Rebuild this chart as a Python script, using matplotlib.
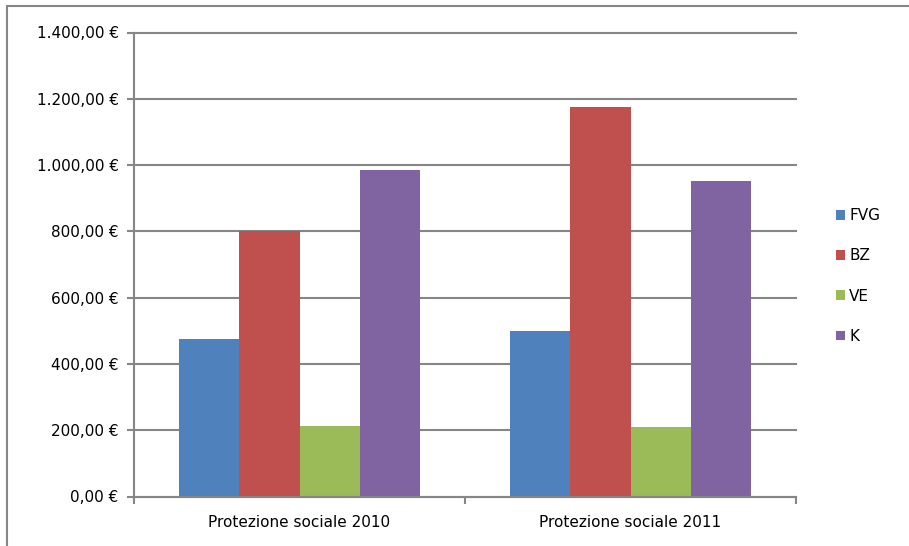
import matplotlib
matplotlib.use('Agg')
import matplotlib.pyplot as plt
import matplotlib.patches as mpatches
from matplotlib.ticker import FuncFormatter, MultipleLocator
import numpy as np

categories = ['Protezione sociale 2010', 'Protezione sociale 2011']
series = ['FVG', 'BZ', 'VE', 'K']
fvg = [474, 499]
bz = [800, 1175]
ve = [213, 210]
k = [985, 953]
colors = ['#4F81BD', '#C0504D', '#9BBB59', '#8064A2']

plt.rcParams['font.family'] = ['DejaVu Sans']

def euro(v, pos):
    # 1400 -> "1.400,00 €"
    s = '{:,.2f}'.format(v)
    s = s.replace(',', 'X').replace('.', ',').replace('X', '.')
    return s + ' \u20ac'

fig = plt.figure(figsize=(9.09, 5.46), dpi=100)
ax = fig.add_axes([134 / 909, 1 - 496.5 / 546, (796 - 134) / 909, (496.5 - 32.5) / 546])

x = np.arange(len(categories))
w = 1 / 5.5
for i, (name, vals) in enumerate(zip(series, [fvg, bz, ve, k])):
    ax.bar(x + (i - 1.5) * w, vals, width=w, color=colors[i], label=name, zorder=3)

ax.set_xlim(-0.5, 1.5)
ax.set_ylim(0, 1400)
ax.yaxis.set_major_locator(MultipleLocator(200))
ax.yaxis.set_major_formatter(FuncFormatter(euro))
ax.grid(axis='y', color='#868686', linewidth=1.5, zorder=0)
# keep the 1400 line at full width
for gl in ax.get_ygridlines():
    gl.set_clip_on(False)

ax.set_xticks(x)
ax.set_xticklabels(categories)
ax.set_xticks([-0.5, 0.5, 1.5], minor=True)
ax.tick_params(axis='x', which='major', length=0, pad=13, labelsize=11)
ax.tick_params(axis='x', which='minor', length=5, width=1.5, color='#868686')
ax.tick_params(axis='y', length=5, width=1.5, color='#868686', pad=6, labelsize=11)

for side in ['top', 'right']:
    ax.spines[side].set_visible(False)
for side in ['left', 'bottom']:
    ax.spines[side].set_color('#868686')
    ax.spines[side].set_linewidth(1.5)
    ax.spines[side].set_zorder(4)

# legend at the right of the plot area
ax.legend(loc='center left', bbox_to_anchor=(1.04, 0.475), frameon=False,
          fontsize=11, handlelength=0.6, handleheight=0.6, handletextpad=0.25,
          labelspacing=1.65)

# outer chart border (top and left edges show inside the image)
fig.patches.append(mpatches.Rectangle((6.5 / 909, -0.1), 2, 1.1 - 5.5 / 546,
                                      transform=fig.transFigure, fill=False,
                                      edgecolor='#868686', linewidth=1.5))

fig.savefig('out.png', dpi=100)
